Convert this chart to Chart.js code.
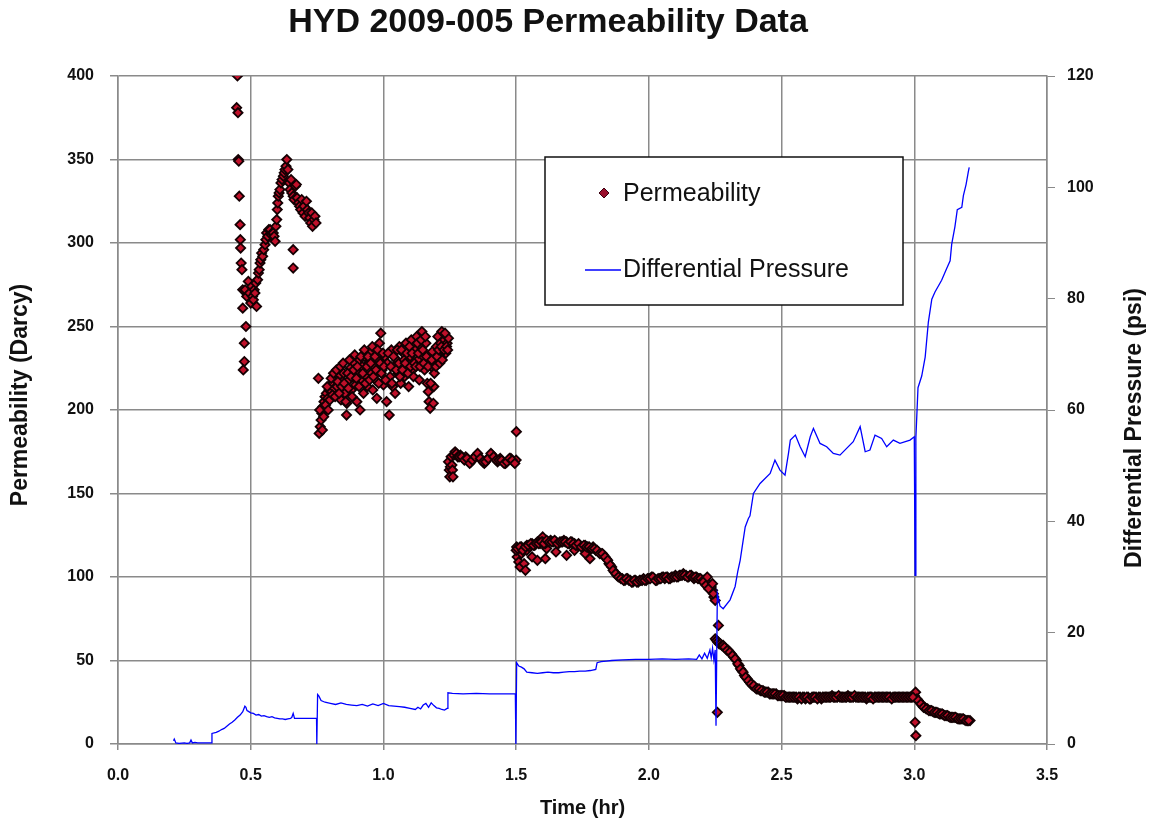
<!DOCTYPE html>
<html>
<head>
<meta charset="utf-8">
<title>HYD 2009-005 Permeability Data</title>
<script src="https://cdn.jsdelivr.net/npm/chart.js@4.4.1/dist/chart.umd.min.js"></script>
<style>
  html, body { margin: 0; padding: 0; background: #fff; }
  canvas { display: block; }
</style>
</head>
<body>
<canvas id="permChart" width="1155" height="827"></canvas>
<script>
// permeability (Darcy) vs time (hr)
// first plateau: scattered points 0.44 - 0.75 hr
const segATime = [
  0.450, 0.447, 0.452, 0.453, 0.455, 0.457, 0.460, 0.461, 0.462, 0.464, 0.467, 0.470, 0.470, 0.482, 0.476, 0.476, 0.472,
  0.479, 0.485, 0.491, 0.495, 0.500, 0.504, 0.507, 0.510, 0.513, 0.516, 0.519, 0.522, 0.526, 0.529, 0.532, 0.535, 0.538,
  0.541, 0.545, 0.549, 0.554, 0.557, 0.560, 0.564, 0.568, 0.573, 0.577, 0.581, 0.585, 0.588, 0.592, 0.595, 0.598, 0.600,
  0.602, 0.604, 0.607, 0.610, 0.614, 0.618, 0.623, 0.626, 0.629, 0.633, 0.636,
  0.640, 0.645, 0.648, 0.652, 0.655, 0.660, 0.663, 0.668, 0.672, 0.675, 0.680, 0.684, 0.688, 0.692, 0.697, 0.700, 0.705,
  0.710, 0.713, 0.718, 0.722, 0.726, 0.730, 0.733, 0.738, 0.742, 0.746, 0.660, 0.660
];
const segAPerm = [
  400, 381, 378, 350, 349, 328, 311, 302, 297, 288, 284, 272, 261, 250, 240, 229, 224,
  272, 268, 277, 270, 264, 274, 268, 266, 272, 270, 276, 262, 278, 282, 284, 288, 290,
  294, 292, 296, 299, 302, 306, 304, 308, 308, 305, 306, 306, 304, 301, 310, 314, 320,
  324, 328, 330, 332, 336, 338, 340, 342, 344, 346, 350,
  344, 336, 332, 338, 330, 328, 326, 334, 335, 327, 324, 322, 320, 326, 318, 322, 316,
  325, 320, 318, 315, 312, 318, 310, 314, 316, 312, 296, 285
];

// second plateau: scattered cloud 0.75 - 1.25 hr
const segBTime = [
  0.755, 0.758, 0.762, 0.765, 0.768, 0.772, 0.776, 0.780, 0.785, 0.790, 0.795, 0.800, 0.805, 0.810, 0.815, 0.820, 0.825,
  0.830, 0.836, 0.840, 0.845, 0.850, 0.855, 0.861, 0.862, 0.870, 0.875, 0.880, 0.885, 0.890, 0.895, 0.900, 0.905, 0.910,
  0.912, 0.918, 0.920, 0.925, 0.930, 0.935, 0.940, 0.945, 0.950, 0.955, 0.960, 0.965, 0.970, 0.975, 0.980, 0.985, 0.990,
  0.995, 1.000, 1.005, 1.012, 1.015, 1.022, 1.025, 1.030, 1.035, 1.040, 1.044, 1.050, 1.055, 1.060, 1.065, 1.070, 1.075,
  1.080, 1.085, 1.090, 1.095, 1.100, 1.105, 1.110, 1.113, 1.120, 1.125, 1.130, 1.135, 1.140, 1.145, 1.150, 1.155, 1.160,
  1.165, 1.169, 1.172, 1.176, 1.180, 1.184, 1.188, 1.190, 1.195, 1.200, 1.205, 1.210, 1.215, 1.220, 1.225, 1.230, 1.235,
  1.240, 1.245,
  0.760, 0.770, 0.775, 0.782, 0.788, 0.792, 0.798, 0.803, 0.808, 0.812, 0.818, 0.823, 0.828, 0.833, 0.838, 0.843, 0.848,
  0.852, 0.858, 0.865, 0.868, 0.872, 0.878, 0.882, 0.888, 0.892, 0.898, 0.902, 0.908, 0.915, 0.922, 0.928, 0.932, 0.938,
  0.942, 0.948, 0.952, 0.958, 0.962, 0.968, 0.972, 0.978, 0.982, 0.988, 0.992, 0.998, 1.002, 1.008, 1.018, 1.028, 1.032,
  1.038, 1.048, 1.052, 1.058, 1.062, 1.068, 1.072, 1.078, 1.082, 1.088, 1.092, 1.098, 1.102, 1.108, 1.116, 1.122, 1.128,
  1.132, 1.138, 1.142, 1.148, 1.152, 1.158, 1.162, 1.168, 1.178, 1.182, 1.192, 1.198, 1.202, 1.208, 1.212, 1.218, 1.222,
  1.228, 1.232, 1.238, 1.242
];
const segBPerm = [
  219, 186, 190, 194, 198, 202, 205, 208, 210, 207, 212, 215, 211, 216, 213, 218, 214,
  220, 221, 206, 217, 222, 210, 197, 204, 218, 225, 212, 220, 228, 215, 205, 222, 230,
  200, 218, 226, 210, 232, 220, 214, 228, 235, 222, 212, 226, 218, 207, 230, 240, 246,
  224, 215, 232, 205, 228, 197, 220, 236, 214, 226, 210, 230, 222, 238, 216, 228, 234,
  220, 240, 226, 214, 232, 242, 224, 220, 236, 244, 230, 218, 238, 247, 232, 224, 240,
  216, 211, 205, 201, 226, 235, 204, 214, 230, 238, 244, 232, 240, 247, 236, 242, 234,
  240, 243,
  200, 188, 196, 203, 214, 200, 206, 219, 209, 222, 208, 224, 217, 210, 226, 214, 228,
  216, 205, 222, 213, 230, 220, 208, 224, 233, 219, 226, 214, 232, 222, 236, 216, 226,
  232, 218, 228, 238, 220, 232, 224, 236, 216, 228, 222, 234, 226, 218, 234, 226, 216,
  232, 224, 236, 228, 220, 236, 224, 230, 228, 234, 222, 238, 226, 234, 228, 226, 240,
  234, 226, 242, 236, 228, 244, 232, 226, 216, 230, 222, 226, 232, 236, 228, 238, 230,
  236, 246, 238, 236
];

// third plateau: dense run 1.24 - 1.50 hr
const segCTime = [
  1.245, 1.248, 1.250, 1.252, 1.255, 1.258, 1.260, 1.262, 1.265, 1.270, 1.275, 1.280, 1.290, 1.300, 1.310, 1.320, 1.330,
  1.340, 1.350, 1.360, 1.370, 1.380, 1.390, 1.400, 1.410, 1.420, 1.430, 1.440, 1.450, 1.460, 1.470, 1.480, 1.490, 1.500,
  1.501,
  1.285, 1.295, 1.305, 1.315, 1.325, 1.335, 1.345, 1.355, 1.365, 1.375, 1.385, 1.395, 1.405, 1.415, 1.425, 1.435, 1.445,
  1.455, 1.465, 1.475, 1.485, 1.495
];
const segCPerm = [
  169, 164, 160, 166, 172, 167, 164, 160, 173, 175, 174, 172, 173, 171, 172, 170, 169,
  171, 173, 172, 170, 168, 170, 172, 173, 171, 169, 171, 169, 168, 170, 171, 169, 170,
  187,
  172, 172, 170, 171, 168, 170, 172, 174, 171, 169, 169, 171, 174, 172, 170, 170, 170,
  168, 169, 171, 170, 168
];

// fourth plateau: 1.50 - 2.26 hr
const segDTime = [
  1.502, 1.504, 1.510, 1.515, 1.520, 1.530, 1.535, 1.540, 1.560, 1.580, 1.600, 1.610, 1.615, 1.650, 1.690, 1.720, 1.760, 1.778,
  1.50, 1.51, 1.52, 1.53, 1.54, 1.55, 1.56, 1.57, 1.58, 1.59, 1.60, 1.61, 1.62, 1.63, 1.64, 1.65, 1.66, 1.67, 1.68, 1.69,
  1.70, 1.71, 1.72, 1.73, 1.74, 1.75, 1.76, 1.77, 1.78, 1.79, 1.80, 1.81, 1.82, 1.83, 1.84, 1.85, 1.86, 1.87, 1.88, 1.89,
  1.90, 1.91, 1.92, 1.93, 1.94, 1.95, 1.96, 1.97, 1.98, 1.99, 2.00, 2.01, 2.02, 2.03, 2.04, 2.05, 2.06, 2.07, 2.08, 2.09,
  2.10, 2.11, 2.12, 2.13, 2.14, 2.15, 2.16, 2.17, 2.18, 2.19, 2.20, 2.21, 2.22, 2.23, 2.24, 2.245, 2.25,
  1.505, 1.515, 1.525, 1.535, 1.545, 1.555, 1.565, 1.575, 1.585, 1.595, 1.605, 1.615, 1.625, 1.635, 1.645, 1.655, 1.665,
  1.675, 1.685, 1.695, 1.705, 1.715, 1.725, 1.735, 1.745, 1.755, 1.765, 1.775, 1.785, 1.795, 1.805, 1.815, 1.825, 1.835,
  1.845, 1.855, 1.865, 1.875, 1.885, 1.895, 1.905, 1.915, 1.925, 1.935, 1.945, 1.955, 1.965, 1.975, 1.985, 1.995, 2.005,
  2.015, 2.025, 2.035, 2.045, 2.055, 2.065, 2.075, 2.085, 2.095, 2.105, 2.115, 2.125, 2.135, 2.145, 2.155, 2.165, 2.175,
  2.185, 2.195, 2.205, 2.215, 2.225, 2.235,
  2.205, 2.215, 2.220, 2.225, 2.240, 2.243, 2.262
];
const segDPerm = [
  118, 112, 109, 106, 114, 108, 104, 116, 112, 110, 124, 111, 117, 115, 113, 116, 114, 111,
  116, 117, 118, 117, 119, 118, 120, 119, 121, 120, 121, 120, 121, 122, 121, 121, 120, 121, 122, 121,
  120, 121, 120, 119, 119, 118, 119, 118, 117, 118, 116, 115, 114, 113, 111, 108, 106, 103, 101, 100,
  99, 98, 99, 98, 97, 98, 97, 98, 99, 98, 99, 100, 99, 98, 99, 100, 99, 100, 99, 100,
  101, 100, 101, 102, 101, 100, 101, 99, 100, 99, 98, 97, 96, 95, 92, 88, 86,
  117, 118, 116, 118, 119, 120, 119, 120, 120, 121, 120, 122, 121, 121, 122, 120, 121,
  121, 121, 120, 121, 120, 119, 120, 118, 119, 118, 118, 117, 117, 116, 114, 114, 112,
  110, 107, 104, 102, 100, 99, 98, 99, 98, 97, 98, 97, 98, 98, 98, 99, 99,
  100, 98, 99, 99, 100, 100, 99, 100, 100, 100, 101, 101, 101, 100, 101, 100, 100,
  99, 99, 98, 96, 96, 94,
  97, 95, 100, 93, 96, 90, 71
];

// last section: 2.25 - 3.21 hr
const segETime = [
  2.250, 2.255, 2.260, 2.265, 2.270, 2.275, 2.280, 2.29, 2.30, 2.31, 2.32, 2.33, 2.34, 2.35, 2.36, 2.37, 2.38, 2.39,
  2.40, 2.41, 2.42, 2.43, 2.44, 2.45, 2.46, 2.47, 2.48, 2.49, 2.50, 2.51, 2.52, 2.53, 2.54, 2.55, 2.56, 2.57, 2.58, 2.59,
  2.60, 2.61, 2.62, 2.63, 2.64, 2.65, 2.66, 2.67, 2.68, 2.69, 2.70, 2.71, 2.72, 2.73, 2.74, 2.75, 2.76, 2.77, 2.78, 2.79,
  2.80, 2.81, 2.82, 2.83, 2.84, 2.85, 2.86, 2.87, 2.88, 2.89, 2.90, 2.91, 2.92, 2.93, 2.94, 2.95, 2.96, 2.97, 2.98, 2.99,
  3.00, 3.005, 3.01, 3.02, 3.03, 3.04, 3.05, 3.06, 3.07, 3.08, 3.09, 3.10, 3.11, 3.12, 3.13, 3.14, 3.15, 3.16, 3.17, 3.18,
  3.19, 3.20, 3.21,
  2.285, 2.295, 2.305, 2.315, 2.325, 2.335, 2.345, 2.355, 2.365, 2.375, 2.385, 2.395, 2.405, 2.415, 2.425, 2.435, 2.445,
  2.455, 2.465, 2.475, 2.485, 2.495, 2.505, 2.515, 2.525, 2.535, 2.545, 2.555, 2.565, 2.575, 2.585, 2.595, 2.605, 2.615,
  2.625, 2.635, 2.645, 2.655, 2.665, 2.675, 2.685, 2.695, 2.705, 2.715, 2.725, 2.735, 2.745, 2.755, 2.765, 2.775, 2.785,
  2.795, 2.805, 2.815, 2.825, 2.835, 2.845, 2.855, 2.865, 2.875, 2.885, 2.895, 2.905, 2.915, 2.925, 2.935, 2.945, 2.955,
  2.965, 2.975, 2.985, 2.995, 3.015, 3.025, 3.035, 3.045, 3.055, 3.065, 3.075, 3.085, 3.095, 3.105, 3.115, 3.125, 3.135,
  3.145, 3.155, 3.165, 3.175, 3.185, 3.195, 3.205,
  2.258, 3.003, 3.006
];
const segEPerm = [
  63, 62, 61, 60, 60, 59, 59, 57, 56, 54, 52, 50, 47, 44, 41, 39, 37, 35,
  34, 33, 32, 32, 31, 31, 30, 30, 30, 29, 29, 29, 28, 28, 28, 28, 27, 28, 28, 27,
  28, 27, 28, 28, 28, 27, 28, 28, 28, 29, 28, 28, 28, 28, 28, 29, 28, 28, 28, 28,
  28, 28, 27, 28, 28, 28, 28, 28, 28, 28, 28, 28, 28, 28, 28, 28, 28, 28, 28, 28,
  29, 31, 27, 25, 23, 22, 21, 20, 19.5, 19, 18.5, 18, 17.5, 17, 16.5, 16, 16, 15.5, 15, 15,
  14.5, 14, 14,
  58, 56, 55, 53, 51, 48, 45, 43, 40, 38, 36, 35, 33, 33, 32, 31, 31,
  30, 30, 30, 29, 29, 29, 28, 28, 28, 28, 28, 28, 27, 28, 28, 27, 28,
  28, 27, 28, 28, 28, 28, 28, 28, 28, 29, 28, 28, 28, 28, 28, 29, 28,
  28, 28, 28, 28, 28, 27, 28, 28, 28, 28, 28, 28, 27, 28, 28, 28, 28,
  28, 28, 28, 28, 26, 24, 22, 21, 20, 20, 19, 19, 18, 18, 17, 17, 16,
  16, 16, 15, 15, 15, 14, 14,
  19, 13, 5
];

// differential pressure (psi) vs time (hr)
const pressureTime = [
  0.209, 0.212, 0.218, 0.230, 0.250, 0.260, 0.270, 0.275, 0.280, 0.290, 0.300, 0.320, 0.340, 0.352, 0.354, 0.370, 0.380,
  0.390, 0.400, 0.410, 0.420, 0.430, 0.440, 0.450, 0.460, 0.470, 0.478, 0.482, 0.486, 0.490, 0.500, 0.510, 0.520, 0.530,
  0.540, 0.550, 0.560, 0.570, 0.580, 0.590, 0.600, 0.610, 0.620, 0.630, 0.640, 0.650, 0.655, 0.660, 0.665, 0.680, 0.700,
  0.720, 0.748, 0.749, 0.752, 0.757, 0.765, 0.780, 0.800, 0.820, 0.840, 0.860, 0.880, 0.900, 0.920, 0.940, 0.960, 0.980,
  1.000, 1.020, 1.040, 1.060, 1.080, 1.100, 1.120, 1.130, 1.140, 1.150, 1.160, 1.170, 1.180, 1.190, 1.200, 1.210, 1.220,
  1.230, 1.240, 1.243, 1.260, 1.300, 1.350, 1.400, 1.450, 1.497, 1.499, 1.502, 1.510, 1.520, 1.530, 1.540, 1.560, 1.580,
  1.600, 1.620, 1.640, 1.660, 1.680, 1.700, 1.720, 1.740, 1.760, 1.780, 1.800, 1.805, 1.820, 1.840, 1.860, 1.900, 1.950,
  2.000, 2.050, 2.100, 2.150, 2.180, 2.190, 2.200, 2.210, 2.220, 2.230, 2.235, 2.240, 2.245, 2.250, 2.253, 2.258, 2.268,
  2.280, 2.306, 2.325, 2.335, 2.344, 2.355, 2.363, 2.375, 2.381, 2.394, 2.419, 2.457, 2.475, 2.494, 2.513, 2.526, 2.533,
  2.552, 2.570, 2.589, 2.608, 2.620, 2.645, 2.670, 2.695, 2.720, 2.745, 2.770, 2.796, 2.815, 2.833, 2.852, 2.877, 2.896,
  2.921, 2.946, 2.984, 3.000, 3.003, 3.006, 3.014, 3.028, 3.041, 3.053, 3.066, 3.078, 3.103, 3.122, 3.135, 3.141, 3.153,
  3.162, 3.179, 3.185, 3.195, 3.204, 3.207
];
const pressureValue = [
  0.6, 0.9, 0.2, 0.1, 0.2, 0.1, 0.2, 0.7, 0.2, 0.3, 0.2, 0.2, 0.2, 0.2, 1.9, 2.1, 2.3,
  2.6, 2.8, 3.2, 3.6, 3.9, 4.3, 4.8, 5.2, 5.8, 6.8, 6.6, 6.0, 5.9, 5.6, 5.5, 5.2, 5.3,
  5.0, 5.1, 4.9, 4.8, 4.9, 4.7, 4.6, 4.5, 4.5, 4.4, 4.5, 4.6, 4.8, 5.5, 4.6, 4.6, 4.6,
  4.6, 4.6, 0.0, 8.9, 8.6, 7.8, 7.5, 7.3, 7.1, 7.4, 7.1, 7.0, 6.9, 7.1, 6.8, 7.2, 6.9,
  7.3, 6.9, 6.8, 6.7, 6.6, 6.4, 6.2, 6.6, 6.3, 7.0, 7.3, 6.6, 7.4, 6.9, 6.5, 6.4, 6.2,
  6.1, 6.4, 9.2, 9.1, 9.0, 9.1, 9.0, 9.0, 9.0, 0.0, 14.6, 14.0, 13.8, 13.5, 12.9, 12.8, 12.7,
  12.8, 12.9, 12.8, 12.8, 12.9, 13.0, 13.0, 13.1, 13.1, 13.2, 13.4, 14.6, 14.8, 14.9, 15.0, 15.1, 15.2,
  15.2, 15.3, 15.2, 15.3, 15.2, 16.0, 15.3, 16.3, 15.4, 16.9, 15.5, 17.2, 15.1, 16.9, 3.3, 27.0, 24.8,
  24.3, 25.9, 28.3, 31.0, 33.0, 36.5, 39.0, 40.5, 41.0, 45.0, 46.8, 48.6, 51.0, 49.2, 48.3, 52.2, 54.6,
  55.5, 53.4, 51.6, 55.2, 56.7, 54.0, 53.4, 52.2, 51.9, 53.1, 54.3, 57.0, 52.5, 52.8, 55.5, 54.9, 53.4,
  54.6, 54.0, 54.6, 55.2, 30.3, 55.0, 64.0, 66.1, 69.5, 75.8, 79.9, 81.2, 83.3, 85.4, 86.8, 89.8, 92.9,
  96.0, 96.4, 98.5, 100.5, 102.9, 103.6
];

// axis ranges / ticks
const timeRange = [0, 3.5, 0.5];
const permRange = [0, 400, 50];
const pressureRange = [0, 120, 20];

const FONT = "'Liberation Sans', Arial, Helvetica, sans-serif";
const gridColor = "#8a8a8a";
const textColor = "#111";

function pairs(ts, vs) {
  return ts.map((t, i) => ({ x: t, y: vs[i] }));
}

const permPoints = [].concat(
  pairs(segATime, segAPerm),
  pairs(segBTime, segBPerm),
  pairs(segCTime, segCPerm),
  pairs(segDTime, segDPerm),
  pairs(segETime, segEPerm)
);
const pressurePoints = pairs(pressureTime, pressureValue);

// title, axis titles and boxed legend drawn by hand (excel look)
const decorations = {
  id: "decorations",
  afterDatasetsDraw(chart) {
    const ctx = chart.ctx;
    const a = chart.chartArea;
    ctx.save();

    // legend box
    const bx = 545, by = 157, bw = 358, bh = 148;
    ctx.fillStyle = "#fff";
    ctx.fillRect(bx, by, bw, bh);
    ctx.strokeStyle = "#111";
    ctx.lineWidth = 1.5;
    ctx.strokeRect(bx, by, bw, bh);

    // permeability marker
    ctx.beginPath();
    ctx.moveTo(604, 188);
    ctx.lineTo(609, 193);
    ctx.lineTo(604, 198);
    ctx.lineTo(599, 193);
    ctx.closePath();
    ctx.fillStyle = "#9a0f2c";
    ctx.fill();
    ctx.strokeStyle = "#3a0010";
    ctx.lineWidth = 1;
    ctx.stroke();

    // pressure line sample
    ctx.beginPath();
    ctx.moveTo(585, 270);
    ctx.lineTo(621, 270);
    ctx.strokeStyle = "#0000ff";
    ctx.lineWidth = 1.5;
    ctx.stroke();

    ctx.fillStyle = textColor;
    ctx.font = "25px " + FONT;
    ctx.textAlign = "left";
    ctx.textBaseline = "middle";
    ctx.fillText("Permeability", 623, 194);
    ctx.fillText("Differential Pressure", 623, 270);

    // chart title
    ctx.font = "bold 34px " + FONT;
    ctx.textAlign = "center";
    ctx.fillText("HYD 2009-005 Permeability Data", 548, 23);

    // axis titles
    ctx.font = "bold 20px " + FONT;
    ctx.fillText("Time (hr)", (a.left + a.right) / 2, 808);

    ctx.font = "bold 23px " + FONT;
    ctx.save();
    ctx.translate(21, 395);
    ctx.rotate(-Math.PI / 2);
    ctx.fillText("Permeability (Darcy)", 0, 0);
    ctx.restore();

    ctx.save();
    ctx.translate(1135, 428);
    ctx.rotate(-Math.PI / 2);
    ctx.fillText("Differential Pressure (psi)", 0, 0);
    ctx.restore();

    ctx.restore();
  }
};

const tickFont = { family: FONT, size: 16, weight: "bold" };

new Chart(document.getElementById("permChart"), {
  type: "scatter",
  data: {
    datasets: [
      {
        label: "Differential Pressure",
        data: pressurePoints,
        yAxisID: "y1",
        showLine: true,
        borderColor: "#0000ff",
        borderWidth: 1.3,
        pointRadius: 0,
        tension: 0
      },
      {
        label: "Permeability",
        data: permPoints,
        yAxisID: "y",
        pointStyle: "rectRot",
        pointRadius: 4.6,
        backgroundColor: "#c0102a",
        borderColor: "#140003",
        borderWidth: 1.8
      }
    ]
  },
  options: {
    responsive: false,
    animation: false,
    layout: { padding: { top: 76, left: 0, right: 0, bottom: 0 } },
    plugins: {
      legend: { display: false },
      tooltip: { enabled: false },
      title: { display: false }
    },
    scales: {
      x: {
        type: "linear",
        min: timeRange[0],
        max: timeRange[1],
        ticks: {
          stepSize: timeRange[2],
          callback: (v) => v.toFixed(1),
          font: tickFont,
          color: textColor,
          padding: 16,
          maxRotation: 0
        },
        grid: { color: gridColor, lineWidth: 1.5, tickLength: 6, tickColor: gridColor },
        border: { color: gridColor, width: 1.5 },
        afterFit: (s) => { s.height = 83; }
      },
      y: {
        position: "left",
        min: permRange[0],
        max: permRange[1],
        ticks: { stepSize: permRange[2], font: tickFont, color: textColor, padding: 16 },
        grid: { color: gridColor, lineWidth: 1.5, tickLength: 8, tickColor: gridColor },
        border: { color: gridColor, width: 1.5 },
        afterFit: (s) => { s.width = 118; }
      },
      y1: {
        position: "right",
        min: pressureRange[0],
        max: pressureRange[1],
        ticks: { stepSize: pressureRange[2], font: tickFont, color: textColor, padding: 12 },
        grid: { drawOnChartArea: false, tickLength: 8, tickColor: gridColor },
        border: { color: gridColor, width: 1.5 },
        afterFit: (s) => { s.width = 108; }
      }
    }
  },
  plugins: [decorations]
});
</script>
</body>
</html>
